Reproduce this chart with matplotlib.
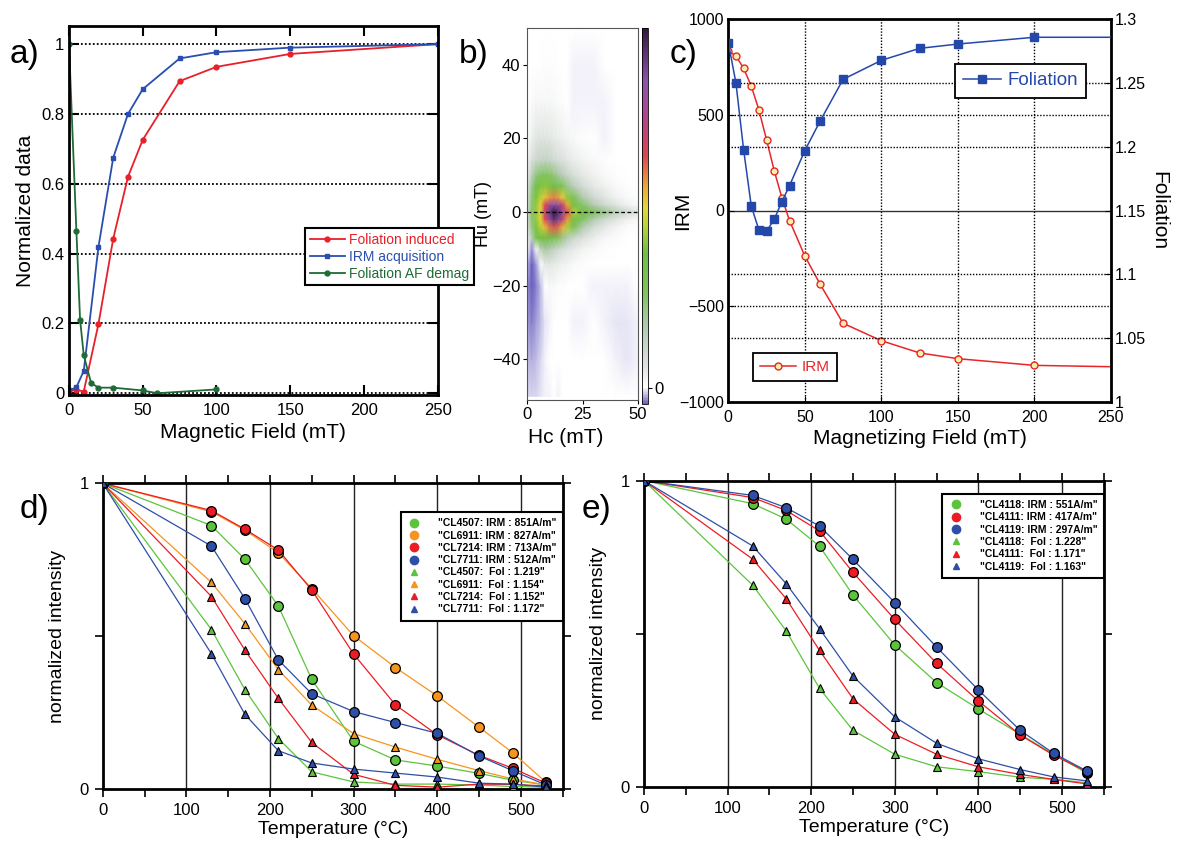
import numpy as np
import matplotlib.pyplot as plt
from matplotlib.colors import LinearSegmentedColormap, Normalize
from matplotlib.lines import Line2D

plt.rcParams['font.family'] = ['Liberation Sans', 'DejaVu Sans']

# ---- a) normalized data vs field ----
field_a = [0, 5, 10, 20, 30, 40, 50, 75, 100, 150, 250]
fol_induced = [0.008, 0.010, 0.005, 0.199, 0.443, 0.620, 0.726, 0.894, 0.935, 0.972, 1.0]
irm_acq = [0.008, 0.017, 0.064, 0.420, 0.675, 0.800, 0.871, 0.959, 0.977, 0.990, 1.0]
af_field = [0, 5, 7.5, 10, 15, 20, 30, 50, 60, 100]
af_demag = [1.0, 0.466, 0.211, 0.109, 0.029, 0.016, 0.016, 0.008, 0.0, 0.011]

# ---- b) FORC distribution (node values, normalized to peak) ----
forc_hc = [0, 2, 4, 6, 8, 10, 12, 14, 16, 18, 21, 25, 30, 35, 40, 45, 50]
forc_hu = [-50, -40, -30, -20, -14, -10, -7, -4, -2, 0, 2, 4, 7, 10, 14, 20, 30, 40, 50]
forc_rho = [
    [-0.012, -0.012, -0.009, -0.005, -0.002, -0.003, 0.0, -0.003, 0.0, 0.0, 0.0, 0.0, 0.0, 0.0, 0.0, 0.0, 0.0],
    [-0.018, -0.022, -0.018, -0.010, -0.004, 0.0, 0.0, 0.0, 0.0, 0.0, 0.0, 0.0, 0.0, 0.0, -0.003, -0.005, -0.003],
    [-0.028, -0.034, -0.028, -0.018, -0.008, -0.002, 0.0, 0.0, 0.0, 0.0, -0.002, -0.003, 0.0, -0.004, -0.006, -0.005, -0.003],
    [-0.032, -0.044, -0.036, -0.020, 0.0, 0.015, 0.015, 0.008, 0.005, 0.0, 0.0, 0.0, -0.002, -0.004, -0.004, -0.002, 0.0],
    [-0.018, -0.044, -0.028, 0.010, 0.050, 0.055, 0.045, 0.040, 0.030, 0.025, 0.015, 0.008, 0.0, 0.0, 0.0, 0.0, 0.0],
    [0.0, -0.030, 0.020, 0.140, 0.180, 0.160, 0.130, 0.100, 0.080, 0.060, 0.045, 0.025, 0.015, 0.008, 0.0, 0.0, 0.0],
    [0.040, 0.150, 0.310, 0.370, 0.370, 0.350, 0.310, 0.260, 0.210, 0.160, 0.110, 0.070, 0.040, 0.020, 0.010, 0.003, 0.0],
    [0.070, 0.220, 0.390, 0.450, 0.530, 0.600, 0.630, 0.610, 0.550, 0.440, 0.290, 0.170, 0.090, 0.050, 0.025, 0.012, 0.006],
    [0.080, 0.240, 0.410, 0.490, 0.640, 0.820, 0.930, 0.880, 0.720, 0.570, 0.380, 0.260, 0.160, 0.100, 0.060, 0.030, 0.015],
    [0.090, 0.250, 0.420, 0.510, 0.700, 0.900, 1.000, 0.940, 0.800, 0.640, 0.440, 0.360, 0.300, 0.220, 0.150, 0.100, 0.060],
    [0.080, 0.240, 0.410, 0.490, 0.640, 0.780, 0.850, 0.800, 0.700, 0.560, 0.380, 0.250, 0.160, 0.100, 0.060, 0.030, 0.015],
    [0.070, 0.230, 0.390, 0.450, 0.520, 0.570, 0.590, 0.570, 0.510, 0.410, 0.280, 0.170, 0.100, 0.060, 0.030, 0.015, 0.008],
    [0.060, 0.200, 0.350, 0.390, 0.400, 0.390, 0.360, 0.320, 0.270, 0.210, 0.150, 0.090, 0.050, 0.030, 0.015, 0.006, 0.0],
    [0.045, 0.140, 0.230, 0.260, 0.270, 0.260, 0.230, 0.190, 0.150, 0.120, 0.080, 0.050, 0.030, 0.015, 0.006, 0.0, 0.0],
    [0.030, 0.075, 0.110, 0.120, 0.130, 0.120, 0.100, 0.085, 0.070, 0.055, 0.040, 0.025, 0.015, 0.006, 0.0, 0.0, 0.0],
    [0.012, 0.035, 0.055, 0.060, 0.060, 0.055, 0.045, 0.040, 0.030, 0.022, 0.015, 0.008, 0.0, -0.002, 0.0, 0.0, 0.0],
    [0.0, 0.010, 0.020, 0.020, 0.020, 0.018, 0.015, 0.012, 0.008, 0.0, -0.002, -0.004, -0.004, -0.002, 0.0, 0.0, 0.0],
    [0.0, 0.0, 0.0, 0.0, 0.006, 0.006, 0.005, 0.0, 0.0, 0.0, -0.002, -0.003, -0.002, 0.0, 0.0, 0.0, 0.0],
    [0.0, 0.0, 0.0, 0.0, 0.0, 0.0, 0.0, 0.0, 0.0, 0.0, 0.0, 0.0, 0.0, 0.0, 0.0, 0.0, 0.0],
]

# ---- c) IRM and foliation vs magnetizing field ----
field_c = [0, 5, 10, 15, 20, 25, 30, 35, 40, 50, 60, 75, 100, 125, 150, 200, 250]
foliation = [1.2817, 1.250, 1.1977, 1.1535, 1.1347, 1.1337, 1.1431, 1.1569, 1.1695, 1.197,
             1.2202, 1.2529, 1.2678, 1.2772, 1.2806, 1.2859, 1.2859]
irm = [836, 808, 744, 651, 526, 369, 208, 67, -53, -238, -386, -590, -681, -745, -775, -810, -817]

# ---- d) / e) thermal demagnetization ----
temps = [0, 130, 170, 210, 250, 300, 350, 400, 450, 490, 530]

d_irm = {
    'CL4507': [1, 0.862, 0.752, 0.599, 0.359, 0.157, 0.096, 0.076, 0.052, 0.030, 0.014],
    'CL6911': [1, 0.907, 0.847, 0.773, 0.656, 0.502, 0.398, 0.305, 0.203, 0.120, 0.023],
    'CL7214': [1, 0.911, 0.850, 0.782, 0.651, 0.442, 0.276, 0.178, 0.111, 0.069, 0.020],
    'CL7711': [1, 0.795, 0.623, 0.423, 0.312, 0.254, 0.218, 0.183, 0.109, 0.061, 0.014],
}
d_fol = {
    'CL4507': [1, 0.522, 0.326, 0.166, 0.057, 0.024, 0.017, 0.017, 0.014, 0.009, 0.007],
    'CL6911': [1, 0.676, 0.541, 0.391, 0.275, 0.182, 0.138, 0.098, 0.061, 0.034, 0.014],
    'CL7214': [1, 0.630, 0.455, 0.297, 0.153, 0.049, 0.013, 0.007, 0.017, 0.016, 0.011],
    'CL7711': [1, 0.443, 0.245, 0.126, 0.086, 0.066, 0.053, 0.040, 0.020, 0.017, 0.007],
}
d_irm_val = ['851A/m', '827A/m', '713A/m', '512A/m']
d_fol_val = ['1.219', '1.154', '1.152', '1.172']

e_irm = {
    'CL4118': [1, 0.925, 0.875, 0.786, 0.627, 0.464, 0.341, 0.255, 0.172, 0.107, 0.045],
    'CL4111': [1, 0.945, 0.903, 0.836, 0.701, 0.547, 0.404, 0.281, 0.170, 0.104, 0.050],
    'CL4119': [1, 0.952, 0.912, 0.852, 0.743, 0.602, 0.457, 0.317, 0.185, 0.110, 0.052],
}
e_fol = {
    'CL4118': [1, 0.659, 0.510, 0.322, 0.185, 0.107, 0.066, 0.050, 0.032, 0.025, 0.014],
    'CL4111': [1, 0.744, 0.615, 0.446, 0.288, 0.172, 0.107, 0.066, 0.041, 0.025, 0.010],
    'CL4119': [1, 0.787, 0.664, 0.517, 0.362, 0.229, 0.143, 0.092, 0.057, 0.033, 0.020],
}
e_irm_val = ['551A/m', '417A/m', '297A/m']
e_fol_val = ['1.228', '1.171', '1.163']

W, H = 1187, 848
fig = plt.figure(figsize=(W / 100, H / 100), dpi=100)


def px_axes(x0, y0, x1, y1, **kw):
    return fig.add_axes([x0 / W, 1 - y1 / H, (x1 - x0) / W, (y1 - y0) / H], **kw)


def panel_label(x, y, s):
    fig.text(x / W, 1 - y / H, s, fontsize=24, va='baseline', ha='left')


# ================= b) (drawn first so the a) legend sits on top) =================
forc_cmap = LinearSegmentedColormap.from_list('forc', [
    (0.00, '#6a5fc0'),
    (0.02, '#b4b0e0'),
    (0.043, '#ffffff'),
    (0.10, '#dfe3e0'),
    (0.20, '#b4c9b4'),
    (0.30, '#7fc25a'),
    (0.40, '#6fbf44'),
    (0.47, '#b5d23c'),
    (0.52, '#e2d83a'),
    (0.58, '#eca53c'),
    (0.66, '#dc4550'),
    (0.76, '#b0468a'),
    (0.86, '#8a55ad'),
    (1.00, '#33163f'),
])
axb = px_axes(527.3, 27.7, 637.7, 400)
HC, HU = np.meshgrid(forc_hc, forc_hu)
mesh = axb.pcolormesh(HC, HU, np.array(forc_rho), shading='gouraud', cmap=forc_cmap,
                      norm=Normalize(vmin=-0.045, vmax=1.0))
axb.axhline(0, color='k', ls=(0, (3, 2)), lw=0.9)
axb.set_xlim(0, 50)
axb.set_ylim(-51, 50)
axb.set_xticks([0, 25, 50])
axb.set_yticks([-40, -20, 0, 20, 40])
axb.tick_params(direction='out', length=3, width=0.8, labelsize=12, pad=2)
for s in axb.spines.values():
    s.set_linewidth(0.8)
    s.set_color('#555555')
axb.set_xlabel('Hc (mT)', fontsize=15)
axb.xaxis.set_label_coords(0.35, -0.075)
axb.set_ylabel('Hu (mT)', fontsize=13, labelpad=0)
cax = px_axes(641.5, 27.7, 647.5, 404)
cb = fig.colorbar(mesh, cax=cax, ticks=[0])
cb.outline.set_linewidth(0.6)
cax.tick_params(length=3, width=0.8, labelsize=12, pad=2)
panel_label(459, 63, 'b)')

# ================= a) =================
axa = px_axes(69, 26, 437.7, 395)
for y in [0, 0.2, 0.4, 0.6, 0.8, 1.0]:
    axa.axhline(y, color='k', ls=(0, (1, 1.2)), lw=1.3, zorder=0)
axa.plot(field_a, fol_induced, '-o', color='#e8202a', ms=3.5, lw=1.3, label='Foliation induced')
axa.plot(field_a, irm_acq, '-s', color='#2a4db0', ms=3.5, lw=1.3, label='IRM acquisition')
axa.plot(af_field, af_demag, '-o', color='#1f6b35', ms=3.5, lw=1.3, label='Foliation AF demag')
axa.set_xlim(0, 250)
axa.set_ylim(-0.005, 1.052)
axa.set_xticks([0, 50, 100, 150, 200, 250])
axa.set_yticks([0, 0.2, 0.4, 0.6, 0.8, 1.0])
axa.set_yticklabels(['0', '0.2', '0.4', '0.6', '0.8', '1'])
axa.tick_params(direction='in', top=True, right=True, length=7, width=1.5, labelsize=12)
axa.tick_params(axis='x', pad=6)
for s in axa.spines.values():
    s.set_linewidth(2)
axa.set_xlabel('Magnetic Field (mT)', fontsize=15, labelpad=3)
axa.set_ylabel('Normalized data', fontsize=15, labelpad=4)
leg = axa.legend(loc='upper left', bbox_to_anchor=(0.64, 0.452), fontsize=10,
                 labelcolor='linecolor', frameon=True, fancybox=False, edgecolor='k',
                 framealpha=1, handlelength=2.5, borderpad=0.35, labelspacing=0.2,
                 handletextpad=0.35, borderaxespad=0)
leg.get_frame().set_linewidth(1.5)
leg.set_zorder(10)
panel_label(10, 63, 'a)')

# ================= c) =================
axc = px_axes(728.3, 19.3, 1111, 401.7)
axr = axc.twinx()
dot = (0, (1, 1.2))
for x in [50, 100, 150, 200]:
    axc.axvline(x, color='k', ls=dot, lw=1.0, zorder=0)
for y in [-500, 500]:
    axc.axhline(y, color='k', ls=dot, lw=1.0, zorder=0)
axc.axhline(0, color='#333333', lw=1.0, zorder=0)
for y in [1.05, 1.1, 1.2, 1.25]:
    axr.axhline(y, color='k', ls=dot, lw=1.0, zorder=0)
n = len(field_c)
axc.plot(field_c, irm, '-o', color='#e8262a', mfc='#f8f0a8', mec='#e8262a', ms=5, mew=1,
         lw=1.1, markevery=list(range(n - 1)), label='IRM')
axr.plot(field_c, foliation, '-s', color='#2448aa', ms=6, lw=1.1,
         markevery=list(range(n - 1)), label='Foliation')
axc.set_xlim(0, 250)
axc.set_ylim(-1000, 1000)
axr.set_ylim(1.0, 1.3)
axc.set_xticks([0, 50, 100, 150, 200, 250])
axc.set_yticks([-1000, -500, 0, 500, 1000])
axr.set_yticks([1.0, 1.05, 1.1, 1.15, 1.2, 1.25, 1.3])
axr.set_yticklabels(['1', '1.05', '1.1', '1.15', '1.2', '1.25', '1.3'])
axc.tick_params(direction='in', length=4, labelsize=11.5, pad=3)
axc.tick_params(axis='x', pad=6)
axr.tick_params(direction='in', length=4, labelsize=11.5, pad=3)
for s in axc.spines.values():
    s.set_linewidth(2)
axc.set_xlabel('Magnetizing Field (mT)', fontsize=15, labelpad=3)
axc.set_ylabel('IRM', fontsize=15, labelpad=-9)
axr.set_ylabel('Foliation', fontsize=15, rotation=270, labelpad=16)
lf = axr.legend(loc='upper left', bbox_to_anchor=(0.592, 0.884), fontsize=13.5,
                labelcolor='linecolor', fancybox=False, edgecolor='k', framealpha=1,
                handlelength=2.0, borderpad=0.45, handletextpad=0.35, borderaxespad=0)
lf.get_frame().set_linewidth(1.3)
li = axc.legend(loc='upper left', bbox_to_anchor=(0.064, 0.127), fontsize=11,
                labelcolor='linecolor', fancybox=False, edgecolor='k', framealpha=1,
                handlelength=2.4, borderpad=0.45, handletextpad=0.35, borderaxespad=0)
li.get_frame().set_linewidth(1.3)
panel_label(670, 63, 'c)')

# ================= d) / e) =================
colors = {'green': '#5cc43c', 'orange': '#f7941d', 'red': '#ed1c24', 'blue': '#2e4fa8'}


def thermal_panel(ax, irm_sets, fol_sets, irm_vals, fol_vals, cols, anchor):
    for x in [100, 200, 300, 400, 500]:
        ax.axvline(x, color='#222222', lw=1.0, zorder=0)
    for (name, vals), c in zip(irm_sets.items(), cols):
        ax.plot(temps, vals, '-', color=c, lw=0.9, zorder=2)
        ax.plot(temps, vals, 'o', color=c, mec='k', mew=0.9, ms=7, zorder=3)
    for (name, vals), c in zip(fol_sets.items(), cols):
        ax.plot(temps, vals, '-', color=c, lw=0.9, zorder=2)
        ax.plot(temps, vals, '^', color=c, mec='k', mew=0.8, ms=5.5, zorder=3)
    ax.set_xlim(0, 550)
    ax.set_ylim(0, 1)
    ax.set_xticks([0, 100, 200, 300, 400, 500])
    ax.set_xticks([50, 150, 250, 350, 450, 550], minor=True)
    ax.set_yticks([0, 0.5, 1])
    ax.set_yticklabels(['0', '', '1'])
    ax.tick_params(which='both', direction='out', top=True, right=True, length=6, width=1.2,
                   labelsize=12, pad=4)
    for s in ax.spines.values():
        s.set_linewidth(2)
    ax.set_xlabel('Temperature (°C)', fontsize=14, labelpad=2)
    ax.set_ylabel('normalized intensity', fontsize=14, labelpad=10)
    handles, labels = [], []
    for name, v, c in zip(irm_sets, irm_vals, cols):
        handles.append(Line2D([], [], ls='none', marker='o', color=c, ms=6))
        labels.append('"%s: IRM : %s"' % (name, v))
    for name, v, c in zip(fol_sets, fol_vals, cols):
        handles.append(Line2D([], [], ls='none', marker='^', color=c, ms=4.5))
        labels.append('"%s:  Fol : %s"' % (name, v))
    lg = ax.legend(handles, labels, loc='upper right', bbox_to_anchor=anchor,
                   prop={'weight': 'bold', 'size': 7.5}, fancybox=False, edgecolor='k',
                   framealpha=1, handlelength=1.4, handletextpad=1.6, labelspacing=0.22,
                   borderpad=0.6, borderaxespad=0)
    lg.get_frame().set_linewidth(1.5)


axd = px_axes(102.7, 483.3, 562.7, 789.3)
thermal_panel(axd, d_irm, d_fol, d_irm_val, d_fol_val,
              [colors['green'], colors['orange'], colors['red'], colors['blue']], (1.0, 0.906))
panel_label(20, 518, 'd)')

axe = px_axes(644, 480.7, 1103.7, 787)
thermal_panel(axe, e_irm, e_fol, e_irm_val, e_fol_val,
              [colors['green'], colors['red'], colors['blue']], (1.0, 0.957))
panel_label(582, 518, 'e)')

fig.savefig('out.png', dpi=100)
